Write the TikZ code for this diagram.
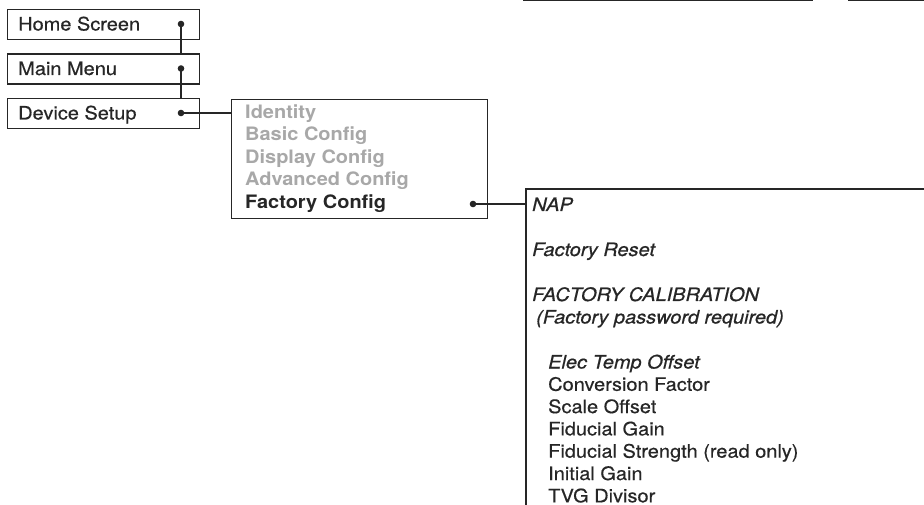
\documentclass[tikz,border=0pt]{standalone}
\usepackage{fontspec}
\setmainfont[FakeStretch=1.08,
  UprightFeatures={FakeBold=0.4},
  ItalicFeatures={FakeBold=0.6}]{TeX Gyre Heros}
\definecolor{ink}{HTML}{262626}
\definecolor{dim}{HTML}{A8A8A8}
\begin{document}
\begin{tikzpicture}[x=1pt,y=-1pt,
  menubox/.style={draw=ink, line width=1.2pt, rectangle, inner sep=0pt, anchor=north west},
  item/.style={anchor=base west, inner sep=0pt, text=ink, font=\fontsize{18.5}{22}\selectfont},
  emitem/.style={item, font=\fontsize{18.5}{22}\selectfont\itshape},
  subitem/.style={item, font=\fontsize{18.5}{22}\selectfont\bfseries, text=dim},
  wire/.style={draw=ink, line width=1.2pt},
  knob/.style={fill=ink}]
\clip (0,0) rectangle (924,505);
\fill[white] (0,0) rectangle (924,505);

% boxes continuing above the page edge
\node[menubox, anchor=south west, minimum width=289pt, minimum height=40pt] (upa) at (523,1.5) {};
\node[menubox, anchor=south west, minimum width=120pt, minimum height=40pt] (upb) at (848,1.5) {};

% navigation chain
\node[menubox, minimum width=192pt, minimum height=30pt] (home) at (7,9) {};
\node[menubox, minimum width=192pt, minimum height=30pt] (main) at (7,53.5) {};
\node[menubox, minimum width=192pt, minimum height=30pt] (dev)  at (7,98) {};
\node[item] (homet) at (18,30.5) {Home Screen};
\node[item] (maint) at (18,75) {Main Menu};
\node[item] (devt)  at (18,119.5) {Device Setup};

\coordinate (hdot) at (181,24);
\coordinate (mdot) at (181,68.5);
\coordinate (ddot) at (181,113);

% device setup submenu
\node[menubox, minimum width=256pt, minimum height=119pt] (sub) at (231,99) {};
\node[subitem] (s1) at (245,118.5) {Identity};
\node[subitem] (s2) at (245,141) {Basic Config};
\node[subitem] (s3) at (245,163.5) {Display Config};
\node[subitem] (s4) at (245,186) {Advanced Config};
\node[subitem, text=ink] (s5) at (245,208.5) {Factory Config};
\coordinate (fdot) at (473,204);

% factory config page (open to the right and below)
\coordinate (fpage) at (526,189);
\draw[wire] (940,189) -- (fpage) -- (526,520);
\node[emitem] (f1) at (532,211) {NAP};
\node[emitem] (f2) at (532,256) {Factory Reset};
\node[emitem] (f3) at (532,301) {FACTORY CALIBRATION};
\node[emitem] (f4) at (536,323.5) {(Factory password required)};
\node[emitem] (c1) at (548,368.5) {Elec Temp Offset};
\node[item] (c2) at (548,390.8) {Conversion Factor};
\node[item] (c3) at (548,413.1) {Scale Offset};
\node[item] (c4) at (548,435.4) {Fiducial Gain};
\node[item] (c5) at (548,457.7) {Fiducial Strength (read only)};
\node[item] (c6) at (548,480) {Initial Gain};
\node[item] (c7) at (548,502.3) {TVG Divisor};

% connectors
\draw[wire] (hdot) -- (hdot |- main.north);
\draw[wire] (mdot) -- (mdot |- dev.north);
\draw[wire] (ddot) -- (ddot -| sub.west);
\draw[wire] (fdot) -- (fdot -| fpage);
\foreach \d in {hdot,mdot,ddot,fdot} \fill[knob] (\d) circle (3.3pt);
\end{tikzpicture}
\end{document}
